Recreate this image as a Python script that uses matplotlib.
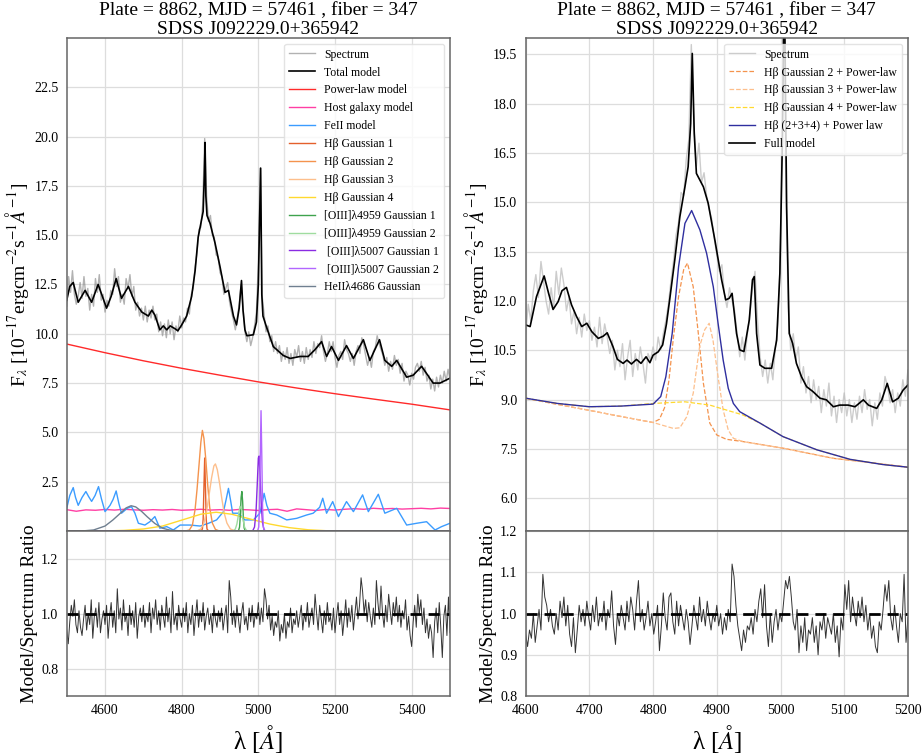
import numpy as np
import matplotlib
matplotlib.use("Agg")
from matplotlib import pyplot as plt

plt.rcParams['font.family'] = ['Liberation Serif', 'DejaVu Serif']
plt.rcParams['mathtext.fontset'] = 'stix'

# ---------------- left: full fit, 4500-5500 ----------------
spec_wave_l = np.arange(4500, 5501, 5)
spec_flux_l = [
    11.4, 12.9, 12.1, 13.2, 12.0, 11.5, 11.9, 12.6, 11.8, 12.9, 11.9, 12.3, 11.2, 12.0, 11.4, 12.8, 12.1, 13.0, 11.7, 12.0,
    11.1, 11.7, 11.4, 12.2, 12.0, 13.3, 12.4, 12.9, 11.6, 12.0, 11.5, 12.8, 12.3, 13.0, 11.9, 12.4, 11.2, 11.6, 10.9, 11.3,
    10.7, 11.4, 10.6, 11.2, 10.8, 11.4, 10.7, 11.0, 10.1, 10.6, 9.9, 10.5, 9.8, 10.7, 10.0, 10.6, 9.7, 10.4, 10.1, 10.9,
    10.3, 10.8, 10.6, 11.3, 11.0, 12.0, 12.3, 13.4, 14.1, 15.3, 15.4, 16.6, 19.9, 17.0, 15.7, 16.0, 15.0, 14.9, 14.0, 13.9,
    13.1, 12.9, 12.0, 12.3, 12.6, 11.6, 11.1, 10.7, 10.2, 10.8, 11.5, 12.5, 11.3, 10.1, 9.6, 10.1, 9.4, 9.8, 10.4, 11.1,
    13.6, 18.4, 11.9, 11.0, 10.1, 10.4, 9.6, 9.9, 9.1, 9.6, 9.0, 9.4, 8.6, 9.1, 8.7, 9.3, 8.5, 9.0, 8.4, 9.2,
    8.8, 9.4, 8.6, 9.1, 8.5, 9.3, 8.7, 9.2, 8.8, 9.6, 9.0, 9.5, 9.3, 9.9, 9.1, 8.6, 9.0, 9.6, 9.1, 9.6,
    8.8, 8.3, 8.9, 9.1, 8.7, 9.7, 9.2, 9.0, 8.6, 9.0, 8.4, 9.1, 9.4, 9.0, 9.8, 9.4, 8.9, 8.4, 8.8, 8.3,
    9.1, 9.3, 9.9, 9.5, 9.2, 8.9, 8.4, 8.8, 8.1, 8.6, 8.2, 8.9, 8.4, 8.7, 8.0, 8.5, 7.6, 8.1, 7.9, 7.4,
    8.0, 7.7, 8.3, 8.5, 8.1, 8.6, 7.9, 8.3, 7.6, 7.9, 7.2, 7.7, 7.1, 7.8, 7.3, 7.9, 7.5, 8.1, 7.6, 8.2,
    7.7]

model_wave_l = [4500, 4508, 4517, 4530, 4548, 4565, 4582, 4593, 4604, 4616, 4629, 4643, 4661, 4678, 4696,
                4713, 4722, 4730, 4743, 4752, 4761, 4770, 4783, 4790, 4800, 4813, 4826, 4835, 4843, 4852,
                4856, 4859, 4861, 4863, 4866, 4874, 4887, 4900, 4913, 4922, 4935, 4943, 4950, 4956, 4960,
                4965, 4970, 4987, 4995, 5000, 5003, 5006, 5009, 5012, 5022, 5039, 5065, 5083, 5109, 5130,
                5148, 5165, 5178, 5191, 5209, 5230, 5248, 5274, 5291, 5316, 5330, 5348, 5361, 5387, 5404,
                5426, 5456, 5474, 5500]
model_flux_l = [11.7, 12.4, 12.6, 11.6, 12.2, 11.6, 12.5, 11.9, 11.3, 11.9, 12.8, 11.8, 12.4, 11.6, 11.1,
                10.9, 11.2, 10.95, 10.2, 10.4, 10.2, 10.4, 10.25, 10.15, 10.45, 10.9, 11.9, 13.2, 14.9, 15.8,
                16.2, 18.0, 19.7, 17.0, 16.0, 15.6, 14.6, 13.4, 12.1, 12.2, 10.9, 10.45, 11.3, 12.7, 11.2,
                10.2, 9.9, 9.95, 10.6, 12.5, 15.5, 18.4, 12.0, 10.9, 10.3, 9.35, 8.9, 8.75, 8.85, 8.85,
                9.2, 9.6, 8.85, 9.35, 8.65, 9.4, 8.75, 9.7, 8.65, 9.7, 8.65, 8.35, 8.65, 7.8, 7.9,
                8.35, 7.5, 7.5, 7.75]

pl_wave_l = [4500, 4600, 4700, 4800, 4900, 5000, 5100, 5200, 5300, 5400, 5500]
pl_flux_l = [9.48, 9.04, 8.63, 8.25, 7.90, 7.56, 7.25, 6.96, 6.69, 6.43, 6.14]

host_wave_l = np.arange(4500, 5501, 25)
host_flux_l = [1.08, 1.00, 1.07, 1.05, 1.09, 1.06, 1.10, 1.07, 1.05, 1.08, 1.06, 1.09, 1.05, 1.07,
               1.10, 1.06, 1.08, 1.05, 1.09, 1.07, 1.04, 1.08, 1.10, 1.00, 1.12, 1.08, 1.04, 1.09,
               1.06, 1.10, 1.13, 1.10, 1.15, 1.12, 1.14, 1.11, 1.13, 1.15, 1.12, 1.16, 1.14]

feii_wave_l = [4500, 4508, 4517, 4523, 4530, 4540, 4550, 4557, 4565, 4574, 4583, 4591, 4600, 4613, 4621,
               4629, 4636, 4643, 4658, 4669, 4678, 4687, 4704, 4717, 4730, 4743, 4761, 4778, 4796, 4822,
               4848, 4870, 4891, 4909, 4916, 4922, 4928, 4933, 4948, 4965, 4987, 5004, 5010, 5015, 5022,
               5030, 5048, 5074, 5100, 5126, 5143, 5160, 5168, 5178, 5194, 5209, 5230, 5248, 5272, 5287,
               5313, 5330, 5361, 5387, 5413, 5439, 5461, 5478, 5500]
feii_flux_l = [1.15, 1.80, 2.20, 1.70, 1.30, 1.70, 2.00, 1.75, 1.50, 1.80, 2.25, 1.60, 0.98, 1.30, 1.60,
               2.03, 1.40, 0.90, 1.15, 1.23, 0.90, 0.39, 0.30, 0.47, 0.73, 0.14, 0.22, 0.05, 0.30, 0.30,
               0.25, 0.39, 0.56, 0.98, 1.60, 2.16, 1.50, 0.90, 0.90, 0.56, 0.56, 0.90, 1.40, 1.91, 1.30,
               0.90, 0.81, 0.56, 0.64, 0.81, 0.90, 1.20, 1.66, 0.90, 1.49, 0.73, 1.49, 0.98, 1.83, 0.98,
               1.86, 0.90, 1.15, 0.30, 0.39, 0.47, 0.05, 0.22, 0.39]

hb1_wave = [4500, 4850, 4854, 4856, 4858, 4860, 4862, 4864, 4866, 4870, 5500]
hb1_flux = [0, 0, 0.1, 0.6, 2.2, 3.7, 2.2, 0.6, 0.1, 0, 0]
hb2_wave = [4500, 4810, 4820, 4828, 4835, 4840, 4845, 4850, 4854, 4858, 4863, 4868, 4873, 4880, 4888, 4898, 5500]
hb2_flux = [0, 0, 0.05, 0.3, 1.1, 2.1, 3.3, 4.5, 5.1, 4.7, 3.6, 2.3, 1.2, 0.4, 0.08, 0, 0]
hb3_wave = [4500, 4840, 4850, 4858, 4865, 4872, 4878, 4884, 4888, 4893, 4899, 4905, 4911, 4918, 4927, 4940, 5500]
hb3_flux = [0, 0, 0.1, 0.4, 1.0, 1.9, 2.7, 3.3, 3.4, 3.1, 2.4, 1.6, 0.9, 0.4, 0.1, 0, 0]
hb4_wave = [4500, 4600, 4650, 4700, 4750, 4800, 4850, 4890, 4930, 4980, 5030, 5080, 5130, 5180, 5250, 5500]
hb4_flux = [0, 0, 0.03, 0.1, 0.25, 0.55, 0.85, 0.95, 0.85, 0.6, 0.35, 0.17, 0.06, 0.01, 0, 0]
o4959a_wave = [4500, 4948, 4951, 4953, 4955, 4957, 4959, 4961, 4963, 4966, 5500]
o4959a_flux = [0, 0, 0.2, 0.8, 1.7, 2.0, 1.5, 0.6, 0.15, 0, 0]
o4959b_wave = [4500, 4935, 4940, 4944, 4948, 4952, 4956, 4960, 4964, 4968, 4972, 5500]
o4959b_flux = [0, 0, 0.1, 0.35, 0.8, 1.25, 1.1, 0.6, 0.2, 0.05, 0, 0]
o5007a_wave = [4500, 4985, 4990, 4994, 4997, 5000, 5002, 5005, 5008, 5011, 5015, 5020, 5500]
o5007a_flux = [0, 0, 0.2, 1.0, 2.3, 3.7, 3.8, 2.6, 1.2, 0.4, 0.05, 0, 0]
o5007b_wave = [4500, 4998, 5001, 5003, 5005, 5007, 5009, 5011, 5013, 5016, 5500]
o5007b_flux = [0, 0, 0.2, 1.2, 3.8, 6.1, 3.8, 1.2, 0.2, 0, 0]
heii_wave = [4500, 4540, 4570, 4600, 4620, 4640, 4655, 4668, 4680, 4695, 4710, 4730, 4750, 4770, 4800, 5500]
heii_flux = [0, 0, 0.05, 0.25, 0.55, 0.9, 1.17, 1.28, 1.22, 1.0, 0.72, 0.38, 0.14, 0.04, 0, 0]

ratio_wave_l = np.arange(4500, 5501, 4)
ratio_l = [
    0.94, 0.89, 0.97, 1.03, 0.99, 1.05, 0.96, 0.93, 1.01, 0.95, 0.92, 0.98, 1.03, 0.94, 1.00, 0.96, 1.05, 0.91, 0.99, 1.02, 0.95, 1.04, 0.93, 0.98, 1.01,
    0.96, 1.03, 0.91, 0.99, 1.04, 0.95, 1.01, 0.93, 1.09, 0.98, 1.02, 0.94, 1.05, 0.97, 1.00, 0.92, 1.03, 0.96, 1.01, 0.95, 1.04, 0.91, 0.99, 1.02, 0.97,
    1.03, 0.95, 1.00, 0.97, 1.04, 0.93, 1.02, 0.98, 1.05, 0.96, 1.01, 0.94, 1.03, 0.99, 0.95, 1.06, 0.97, 1.02, 0.93, 1.08, 0.96, 1.00, 0.94, 1.03, 0.98,
    0.95, 1.02, 0.97, 1.04, 0.93, 1.00, 0.96, 1.03, 0.92, 0.99, 1.05, 0.95, 1.01, 0.97, 1.04, 0.94, 0.99, 1.02, 0.96, 1.00, 0.93, 1.03, 0.98, 0.95, 1.01,
    0.97, 1.02, 0.94, 0.99, 1.03, 0.93, 1.12, 1.06, 0.96, 1.01, 0.95, 1.03, 0.98, 0.93, 1.00, 1.04, 0.96, 0.99, 0.94, 1.02, 0.97, 1.03, 0.95, 1.00, 0.98,
    1.04, 0.96, 1.02, 0.97, 1.09, 1.05, 0.98, 1.03, 0.94, 0.99, 0.92, 0.97, 0.95, 1.01, 0.90, 0.96, 0.93, 1.00, 0.91, 0.97, 0.95, 1.02, 0.93, 0.98, 0.96,
    1.01, 0.95, 0.99, 1.03, 0.94, 1.00, 0.97, 1.04, 0.95, 0.99, 1.02, 0.96, 1.07, 1.00, 0.94, 1.03, 0.98, 0.93, 1.01, 0.96, 1.04, 0.97, 0.99, 0.94, 1.02,
    0.93, 0.99, 1.04, 0.96, 1.01, 0.92, 0.98, 1.05, 0.95, 1.02, 0.97, 1.03, 0.94, 1.00, 1.06, 0.98, 1.03, 1.13, 1.08, 1.00, 1.05, 0.97, 1.04, 0.99, 0.95,
    1.02, 0.96, 1.12, 1.04, 0.98, 1.10, 1.00, 0.95, 1.03, 0.97, 1.07, 1.01, 0.96, 1.04, 0.99, 1.06, 0.97, 1.03, 0.95, 1.01, 0.98, 1.05, 0.94, 0.99, 0.92,
    0.88, 0.97, 1.03, 0.95, 1.07, 1.00, 1.05, 0.96, 1.02, 0.93, 0.98, 0.91, 0.96, 0.93, 0.84, 0.97, 1.02, 0.93, 1.04, 0.95, 0.84, 0.99, 1.03, 0.92, 1.06,
    0.93]

# ---------------- right: H-beta zoom, 4600-5200 ----------------
spec_wave_r = np.arange(4600, 5201, 4)
spec_flux_r = [
    11.0, 11.9, 11.4, 12.3, 12.8, 12.1, 13.2, 12.6, 12.0, 11.6, 12.4, 11.8, 12.9, 12.2, 13.0, 12.5, 11.7, 12.1, 11.3, 11.7, 11.0, 11.5, 10.9, 11.6, 11.1,
    11.4, 10.8, 11.2, 10.6, 11.5, 10.7, 11.3, 10.9, 10.4, 10.8, 9.9, 10.5, 10.0, 10.7, 9.6, 10.3, 10.8, 9.7, 10.4, 9.9, 10.6, 10.1, 9.5, 10.4, 10.2,
    10.6, 10.2, 10.9, 10.5, 11.0, 11.4, 11.9, 12.6, 13.2, 14.0, 14.4, 15.3, 15.2, 16.3, 16.9, 19.8, 17.4, 16.1, 16.8, 15.6, 15.9, 15.2, 14.8, 14.5, 13.9,
    13.4, 12.9, 13.1, 12.2, 11.8, 12.4, 12.0, 11.7, 11.0, 10.3, 10.9, 10.2, 11.0, 11.6, 12.4, 12.9, 11.4, 10.3, 9.7, 10.2, 9.5, 10.1, 9.6, 10.6, 11.3,
    13.5, 20.8, 16.2, 11.8, 10.5, 11.0, 10.2, 10.6, 9.5, 10.0, 9.2, 9.7, 8.9, 9.6, 9.0, 9.4, 8.6, 9.3, 8.8, 9.5, 8.5, 9.1, 8.3, 9.0, 8.6,
    9.2, 8.5, 9.0, 8.3, 8.9, 8.4, 9.1, 8.6, 9.3, 8.7, 9.0, 8.2, 8.9, 8.4, 9.2, 8.8, 9.7, 9.4, 8.9, 9.3, 8.6, 9.2, 8.8, 9.6, 9.1,
    9.9]

model_wave_r = [4600, 4607, 4617, 4629, 4636, 4643, 4651, 4657, 4664, 4672, 4680, 4688, 4696, 4704, 4714,
                4722, 4728, 4737, 4744, 4753, 4759, 4766, 4774, 4781, 4789, 4795, 4800, 4808, 4815, 4821,
                4826, 4834, 4842, 4850, 4855, 4859, 4861.5, 4864.6, 4868, 4879, 4886.5, 4897, 4907.6, 4914,
                4919.5, 4924, 4931, 4936, 4942.6, 4951, 4956, 4958.8, 4962.5, 4967.7, 4975.5, 4986, 4994,
                4999, 5003, 5006, 5009.6, 5013.7, 5019, 5025, 5033, 5041, 5051, 5062, 5072, 5083, 5093,
                5106, 5117, 5130, 5138, 5151, 5159, 5167.5, 5176, 5185, 5192.6, 5200]
model_flux_r = [11.27, 11.22, 12.13, 12.76, 12.23, 11.74, 11.98, 12.31, 12.41, 11.88, 11.52, 11.22, 11.32, 11.06, 10.86,
                10.93, 11.03, 10.61, 10.22, 10.10, 10.20, 10.08, 10.22, 10.10, 10.30, 10.12, 10.35, 10.45, 10.66, 11.30,
                12.03, 13.24, 14.56, 15.47, 16.08, 17.40, 19.53, 17.10, 15.88, 15.47, 14.97, 13.85, 12.64, 12.03,
                12.08, 12.23, 11.01, 10.51, 10.46, 11.42, 12.64, 12.74, 11.01, 10.05, 9.95, 9.95, 10.81,
                12.84, 16.90, 22.00, 14.87, 11.01, 10.71, 10.10, 9.69, 9.39, 9.24, 9.04, 8.99, 8.78, 8.83,
                8.83, 8.78, 8.99, 8.83, 8.73, 8.99, 9.49, 8.93, 9.04, 9.29, 9.44]

hb2pl_wave = [4600, 4650, 4700, 4750, 4800, 4810, 4818, 4825, 4832, 4840, 4848, 4854, 4863, 4871, 4879,
              4889, 4900, 4915, 4941, 5004, 5083, 5150, 5200]
hb2pl_flux = [9.04, 8.85, 8.67, 8.48, 8.30, 8.40, 8.75, 9.60, 10.90, 12.13, 12.95, 13.15, 12.43, 11.01, 9.49,
              8.28, 7.92, 7.79, 7.72, 7.52, 7.21, 7.06, 6.94]
hb3pl_wave = [4600, 4700, 4800, 4832, 4842, 4853, 4863, 4873, 4881, 4888, 4894, 4902, 4910, 4918, 4926,
              4941, 5004, 5083, 5150, 5200]
hb3pl_flux = [9.04, 8.67, 8.30, 8.12, 8.14, 8.48, 9.19, 10.61, 11.12, 11.32, 10.81, 9.69, 8.68, 8.07, 7.82,
              7.72, 7.52, 7.21, 7.06, 6.94]
hb4pl_wave = [4600, 4650, 4700, 4750, 4800, 4850, 4889, 4915, 4941, 4968, 5004, 5057, 5109, 5161, 5200]
hb4pl_flux = [9.04, 8.88, 8.78, 8.80, 8.88, 8.93, 8.83, 8.68, 8.53, 8.28, 7.87, 7.47, 7.18, 7.02, 6.94]
hbsum_wave = [4600, 4650, 4700, 4750, 4800, 4812, 4820, 4830, 4840, 4850, 4860.5, 4873.5, 4884, 4894.5,
              4902, 4910, 4918, 4926, 4936, 4968, 5004, 5057, 5109, 5161, 5200]
hbsum_flux = [9.04, 8.88, 8.78, 8.80, 8.86, 9.09, 9.69, 11.01, 13.04, 14.36, 14.75, 14.16, 13.45, 12.43,
              11.32, 10.20, 9.34, 8.88, 8.63, 8.28, 7.87, 7.47, 7.18, 7.02, 6.94]

ratio_wave_r = np.arange(4600, 5201, 3)
ratio_r = [
    0.95, 0.92, 0.96, 0.94, 1.00, 0.93, 0.97, 1.01, 0.96, 1.095, 1.04, 1.02, 0.98, 1.01, 0.97, 0.95, 1.00, 0.96, 1.03, 0.99,
    1.04, 0.97, 1.02, 0.95, 0.92, 0.99, 0.905, 0.96, 1.02, 0.98, 1.01, 0.97, 1.03, 0.99, 0.96, 1.02, 0.98, 1.04, 0.97, 1.00,
    0.98, 1.03, 0.96, 1.01, 0.99, 1.055, 0.97, 0.925, 1.00, 0.97, 1.02, 0.99, 0.96, 1.03, 0.98, 1.04, 1.01, 0.96, 1.03, 1.08,
    0.98, 1.01, 0.96, 0.99, 1.03, 0.97, 1.00, 0.95, 0.98, 1.02, 0.91, 0.97, 1.05, 0.99, 0.96, 1.04, 1.05, 0.98, 0.95, 1.03,
    0.97, 1.02, 0.99, 0.96, 1.01, 0.98, 0.925, 0.97, 1.02, 0.99, 0.96, 1.04, 0.98, 1.01, 0.97, 1.03, 0.99, 0.96, 1.00, 0.98,
    1.02, 0.97, 1.00, 0.95, 0.99, 0.96, 1.01, 0.98, 1.12, 1.09, 1.02, 0.97, 0.94, 0.91, 0.96, 0.93, 0.97, 0.96, 0.99, 0.95,
    1.01, 0.98, 1.03, 1.06, 0.99, 1.07, 0.97, 0.92, 1.00, 0.93, 0.98, 1.01, 0.96, 1.00, 0.98, 1.03, 1.08, 1.06, 1.09, 1.04,
    0.98, 0.96, 1.01, 0.905, 0.97, 0.93, 0.99, 0.91, 0.96, 0.95, 0.99, 0.93, 0.97, 0.90, 0.98, 0.96, 1.00, 0.94, 0.99, 0.97,
    0.95, 1.00, 0.93, 0.97, 0.895, 0.99, 0.96, 1.07, 1.01, 1.08, 0.98, 1.04, 1.00, 0.97, 1.03, 0.99, 1.04, 0.98, 1.02, 0.96,
    1.00, 0.94, 0.97, 0.92, 0.905, 0.98, 0.96, 1.01, 1.07, 1.03, 1.08, 0.99, 0.96, 1.02, 0.97, 0.93, 1.00, 0.98, 1.095, 0.93,
    0.99]

title = "Plate = 8862, MJD = 57461 , fiber = 347\nSDSS J092229.0+365942"
flux_label = r"F$_{\lambda}$ [10$^{-17}$ergcm$^{-2}$s$^{-1}$$\AA^{-1}$]"
ratio_label = "Model/Spectrum Ratio"
wave_label = r"λ [$\AA$]"


def style_axis(ax):
    ax.grid(True, color='#dddddd', lw=0.9)
    ax.set_axisbelow(True)
    for sp in ax.spines.values():
        sp.set_color('#666666')
        sp.set_linewidth(1.1)
    ax.tick_params(length=0, labelsize=10, pad=6)


def add_legend(ax):
    ax.legend(loc='upper right', fontsize=8.5, labelspacing=0.5, framealpha=0.8,
              edgecolor='#dddddd', borderaxespad=0.5, handlelength=2.2)


fig = plt.figure(figsize=(9.24, 7.54), dpi=100)
ax_lt = fig.add_axes([0.0722, 0.2958, 0.4148, 0.6538])
ax_lb = fig.add_axes([0.0722, 0.0769, 0.4148, 0.2188])
ax_rt = fig.add_axes([0.5689, 0.2958, 0.4137, 0.6538])
ax_rb = fig.add_axes([0.5689, 0.0769, 0.4137, 0.2188])

# left top
ax_lt.plot(spec_wave_l, spec_flux_l, color='gray', alpha=0.6, lw=1, label='Spectrum')
ax_lt.plot(model_wave_l, model_flux_l, color='black', lw=1.2, label='Total model')
ax_lt.plot(pl_wave_l, pl_flux_l, color='#ff2a2a', lw=1, label='Power-law model')
ax_lt.plot(host_wave_l, host_flux_l, color='#ff3fa4', lw=1, label='Host galaxy model')
ax_lt.plot(feii_wave_l, feii_flux_l, color='#3b9cff', lw=1, label='FeII model')
ax_lt.plot(hb1_wave, hb1_flux, color='#e4602c', lw=1, label='Hβ Gaussian 1')
ax_lt.plot(hb2_wave, hb2_flux, color='#f4934d', lw=1, label='Hβ Gaussian 2')
ax_lt.plot(hb3_wave, hb3_flux, color='#fdbf8c', lw=1, label='Hβ Gaussian 3')
ax_lt.plot(hb4_wave, hb4_flux, color='#ffd92f', lw=1, label='Hβ Gaussian 4')
ax_lt.plot(o4959a_wave, o4959a_flux, color='#3fa34d', lw=1, label='[OIII]λ4959 Gaussian 1')
ax_lt.plot(o4959b_wave, o4959b_flux, color='#9fdc9f', lw=1, label='[OIII]λ4959 Gaussian 2')
ax_lt.plot(o5007a_wave, o5007a_flux, color='#8a2be2', lw=1, label=' [OIII]λ5007 Gaussian 1')
ax_lt.plot(o5007b_wave, o5007b_flux, color='#b266ff', lw=1, label=' [OIII]λ5007 Gaussian 2')
ax_lt.plot(heii_wave, heii_flux, color='#6f7f90', lw=1, label='HeIIλ4686 Gaussian')
ax_lt.set_xlim(4500, 5500)
ax_lt.set_ylim(0, 25)
ax_lt.set_yticks(np.arange(2.5, 23, 2.5))
ax_lt.set_xticks(np.arange(4600, 5401, 200))
ax_lt.tick_params(labelbottom=False)
ax_lt.set_ylabel(flux_label, fontsize=14, labelpad=2)
ax_lt.set_title(title, fontsize=14, pad=1, linespacing=1.12)
add_legend(ax_lt)
style_axis(ax_lt)

# left bottom
ax_lb.plot(ratio_wave_l, ratio_l, color='#333333', lw=0.7)
ax_lb.axhline(1.0, color='black', lw=2, ls=(0, (4, 2.5)))
ax_lb.set_xlim(4500, 5500)
ax_lb.set_ylim(0.7, 1.3)
ax_lb.set_yticks([0.8, 1.0, 1.2])
ax_lb.set_xticks(np.arange(4600, 5401, 200))
ax_lb.set_ylabel(ratio_label, fontsize=14, labelpad=2)
ax_lb.set_xlabel(wave_label, fontsize=18)
style_axis(ax_lb)

# right top
ax_rt.plot(spec_wave_r, spec_flux_r, color='silver', alpha=0.8, lw=1, label='Spectrum')
ax_rt.plot(hb2pl_wave, hb2pl_flux, color='#f4934d', lw=0.9, ls='--', label='Hβ Gaussian 2 + Power-law')
ax_rt.plot(hb3pl_wave, hb3pl_flux, color='#fdbf8c', lw=0.9, ls='--', label='Hβ Gaussian 3 + Power-law')
ax_rt.plot(hb4pl_wave, hb4pl_flux, color='#ffd92f', lw=0.9, ls='--', label='Hβ Gaussian 4 + Power-law')
ax_rt.plot(hbsum_wave, hbsum_flux, color='#2f2f9f', lw=1, label='Hβ (2+3+4) + Power law')
ax_rt.plot(model_wave_r, model_flux_r, color='black', lw=1.2, label='Full model')
ax_rt.set_xlim(4600, 5200)
ax_rt.set_ylim(5, 20)
ax_rt.set_yticks(np.arange(6.0, 20, 1.5))
ax_rt.set_xticks(np.arange(4600, 5201, 100))
ax_rt.tick_params(labelbottom=False)
ax_rt.set_ylabel(flux_label, fontsize=14, labelpad=2)
ax_rt.set_title(title, fontsize=14, pad=1, linespacing=1.12)
add_legend(ax_rt)
style_axis(ax_rt)

# right bottom
ax_rb.plot(ratio_wave_r, ratio_r, color='#333333', lw=0.7)
ax_rb.axhline(1.0, color='black', lw=2, ls=(0, (4, 2.5)))
ax_rb.set_xlim(4600, 5200)
ax_rb.set_ylim(0.8, 1.2)
ax_rb.set_yticks([0.8, 0.9, 1.0, 1.1, 1.2])
ax_rb.set_xticks(np.arange(4600, 5201, 100))
ax_rb.set_ylabel(ratio_label, fontsize=14, labelpad=2)
ax_rb.set_xlabel(wave_label, fontsize=18)
style_axis(ax_rb)

plt.savefig('out.png', dpi=100)
